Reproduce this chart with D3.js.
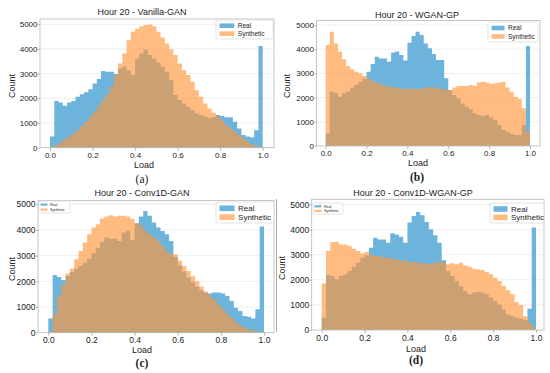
<!DOCTYPE html>
<meta charset="utf-8">
<style>
body { margin: 0; background: #fff; }
text { font-family: "Liberation Sans", Arial, sans-serif; fill: #222; }
</style>
<body>
<script src="https://cdn.jsdelivr.net/npm/d3@7/dist/d3.min.js"></script>
<script>
// histogram counts, 50 bins of width 0.02 over [0, 1]
var binCount = 50;
var seriesNames = ["Real", "Synthetic"];
var xTicks = [0, 0.2, 0.4, 0.6, 0.8, 1.0];
var xTickLabels = ["0.0", "0.2", "0.4", "0.6", "0.8", "1.0"];
var yTicks = [0, 1000, 2000, 3000, 4000, 5000];
var titles = ["Hour 20 - Vanilla-GAN", "Hour 20 - WGAN-GP", "Hour 20 - Conv1D-GAN", "Hour 20 - Conv1D-WGAN-GP"];
var tags = ["(a)", "(b)", "(c)", "(d)"];

var realA = [450,1890,1830,1700,1830,1890,2060,2160,2240,2370, 2600,2780,3110,3070,3070,2980,3210,3280,3140,2940,
  3610,3810,3980,3750,3610,3440,3280,3070,2740,2130, 1930,1790,1660,1520,1390,1320,1250,1190,1250,1320,
  1280,1230,1230,1050,780,510,450,420,710,4120];
var synA = [30,110,200,340,450,580,710,880,1050,1250, 1460,1690,1930,2160,2470,2940,3410,3810,4350,4690,
  4820,4920,4970,4990,4920,4690,4460,4220,3980,3750, 3410,3140,2940,2670,2330,2060,1790,1590,1420,1250,
  1120,920,780,650,510,380,240,150,70,30];

var realB = [520,2240,2200,2040,2180,2240,2420,2520,2660,2780, 3070,3390,3690,3620,3620,3480,3860,3900,3760,3530,
  4270,4550,4720,4590,4240,4040,3800,3550,3550,2800, 2310,2110,1970,1760,1630,1520,1350,1280,1240,1280,
  1180,1070,870,660,590,500,450,450,870,4130];
var synB = [4170,4720,4240,3900,3580,3310,3170,3070,3000,2890, 2800,2700,2620,2560,2500,2440,2450,2400,2380,2340,
  2380,2380,2350,2380,2420,2420,2420,2380,2340,2340, 2310,2420,2480,2480,2480,2520,2480,2620,2660,2620,
  2560,2590,2620,2660,2420,2240,2040,1950,1560,590];

var realC = [550,2250,2170,2050,2210,2360,2490,2600,2730,2880, 3090,3310,3530,3700,3660,3660,3570,3900,3960,3600,
  4260,4520,4740,4550,4290,4090,3960,3830,3570,2950, 2620,2380,2150,1950,1800,1660,1560,1530,1560,1560,
  1530,1430,1230,970,840,650,620,550,910,4130];
var synC = [50,710,1430,1880,2300,2490,2860,3180,3510,3830, 4090,4220,4440,4520,4570,4520,4550,4550,4520,4420,
  4260,4160,3960,3830,3700,3570,3380,3180,3050,3050, 2800,2600,2400,2200,2000,1800,1600,1450,1300,1100,
  910,750,580,420,290,190,130,80,50,30];

var realD = [490,2190,2150,2020,2150,2220,2350,2520,2680,2880, 2970,3280,3680,3610,3610,3480,3850,3800,3720,3480,
  4280,4540,4700,4570,4300,4010,3770,3480,2780,2350, 2150,1950,1750,1550,1420,1490,1510,1490,1420,1290,
  1160,1020,820,620,560,490,450,400,850,4080];
var synD = [1860,3150,3510,3510,3410,3410,3350,3240,3150,3050, 3110,3010,2950,2950,2880,2880,2840,2820,2750,2790,
  2680,2710,2680,2660,2620,2640,2680,2710,2680,2620, 2660,2620,2680,2570,2520,2440,2420,2390,2310,2220,
  2080,1950,1750,1580,1420,1120,1000,550,300,100];

var realSeries = [realA, realB, realC, realD];
var synSeries = [synA, synB, synC, synD];

// panel placement in the 550x373 picture
var panels = [
  {left: 40, right: 274, top: 19, x0: 50, x1: 262.7, yZero: 147.7, y5000: 24.2, fs: 8,
   title: [142, 15], count: [12, 86], load: [144, 168], tag: [142, 183], tagBold: false,
   legend: {x: 216, y: 20, w: 57, h: 19, fs: 6.5}},
  {left: 316.5, right: 540, top: 20.5, x0: 325.7, x1: 530, yZero: 146, y5000: 25, fs: 8,
   title: [417, 17.5], count: [287, 86], load: [418, 166], tag: [417, 181], tagBold: true,
   legend: {x: 488, y: 22, w: 50, h: 20, fs: 6.5}},
  {left: 38, right: 274, top: 200.5, x0: 48.3, x1: 264, yZero: 332.7, y5000: 204.2, fs: 8.5,
   title: [142, 196], count: [12, 269], load: [142, 353], tag: [142, 367], tagBold: true,
   legend: {x: 216, y: 202, w: 58, h: 21, fs: 8}, tiny: {x: 39, y: 201, w: 31, h: 12}},
  {left: 311.7, right: 544, top: 199.3, x0: 321.7, x1: 536, yZero: 330, y5000: 204.5, fs: 8.5,
   title: [413, 196], count: [282, 268], load: [416, 352], tag: [416, 364], tagBold: true,
   legend: {x: 490, y: 203, w: 54, h: 20, fs: 8}, tiny: {x: 313, y: 203, w: 30, h: 11}}
];

var blue = "#6cb4dc";
var orange = "#ff963c";
var orangeAlpha = 0.65;

var svg = d3.select("body").append("svg").attr("width", 550).attr("height", 373);

// stray frame edge between the lower panels
svg.append("line").attr("x1", 276.5).attr("x2", 276.5).attr("y1", 199).attr("y2", 332)
  .style("stroke", "#aaa").style("stroke-width", 1);

function drawLegend(g, lg, tinyMode) {
  var fs = lg.fs;
  g.append("rect").attr("x", lg.x).attr("y", lg.y).attr("width", lg.w).attr("height", lg.h)
    .attr("rx", tinyMode ? 1 : 2)
    .style("fill", "#fff").style("fill-opacity", 0.85).style("stroke", "#dcdcdc").style("stroke-width", 0.8);
  var pw = tinyMode ? 7 : lg.w * 0.26;
  var ph = tinyMode ? 2.2 : fs * 0.7;
  seriesNames.forEach(function(name, i) {
    var cy = lg.y + lg.h * (i === 0 ? 0.3 : 0.72);
    g.append("rect").attr("x", lg.x + (tinyMode ? 1.5 : 3.5)).attr("y", cy - ph / 2)
      .attr("width", pw).attr("height", ph)
      .style("fill", i === 0 ? blue : orange).style("fill-opacity", i === 0 ? 1 : orangeAlpha);
    g.append("text").attr("x", lg.x + (tinyMode ? 11 : pw + 7)).attr("y", cy)
      .attr("dy", "0.35em").style("font-size", fs + "px").text(name);
  });
}

panels.forEach(function(p, k) {
  var g = svg.append("g");
  var x = d3.scaleLinear().domain([0, 1]).range([p.x0, p.x1]);
  var y = d3.scaleLinear().domain([0, 5000]).range([p.yZero, p.y5000]);
  var bw = 1 / binCount;

  // grid
  g.selectAll(".grid").data(yTicks.slice(1)).enter().append("line")
    .attr("x1", p.left).attr("x2", p.right)
    .attr("y1", function(d) { return y(d); }).attr("y2", function(d) { return y(d); })
    .style("stroke", "#ebebeb").style("stroke-width", 0.8);

  var area = d3.area().curve(d3.curveStepAfter)
    .x(function(d) { return x(d[0]); })
    .y0(y(0)).y1(function(d) { return y(d[1]); });
  function pts(vals) {
    var a = vals.map(function(v, i) { return [i * bw, v]; });
    a.push([1, vals[vals.length - 1]]);
    return a;
  }
  g.append("path").attr("d", area(pts(realSeries[k]))).style("fill", blue);
  g.append("path").attr("d", area(pts(synSeries[k]))).style("fill", orange).style("fill-opacity", orangeAlpha);

  // frame
  g.append("rect").attr("x", p.left).attr("y", p.top)
    .attr("width", p.right - p.left).attr("height", p.yZero - p.top)
    .style("fill", "none").style("stroke", "#b8b8b8").style("stroke-width", 0.8);

  var xa = g.append("g").attr("transform", "translate(0," + p.yZero + ")")
    .call(d3.axisBottom(x).tickValues(xTicks).tickSize(3).tickPadding(1.5)
      .tickFormat(function(d, i) { return xTickLabels[i]; }));
  var ya = g.append("g").attr("transform", "translate(" + p.left + ",0)")
    .call(d3.axisLeft(y).tickValues(yTicks).tickSize(2).tickFormat(d3.format("d")));
  [xa, ya].forEach(function(ax) {
    ax.select(".domain").remove();
    ax.selectAll("line").style("stroke", "#999").style("stroke-width", 0.7);
    ax.selectAll("text").style("font-size", p.fs + "px").style("font-family", "'Liberation Sans', Arial, sans-serif").style("fill", "#222");
  });
  ya.selectAll("text").attr("x", -2.5);

  g.append("text").attr("x", p.title[0]).attr("y", p.title[1]).attr("text-anchor", "middle")
    .style("font-size", "9px").text(titles[k]);
  g.append("text").attr("transform", "translate(" + p.count[0] + "," + p.count[1] + ") rotate(-90)")
    .attr("text-anchor", "middle").attr("dy", "0.35em").style("font-size", "9px").text("Count");
  g.append("text").attr("x", p.load[0]).attr("y", p.load[1]).attr("text-anchor", "middle")
    .style("font-size", "9px").text("Load");
  g.append("text").attr("x", p.tag[0]).attr("y", p.tag[1]).attr("text-anchor", "middle")
    .style("font-family", "'Liberation Serif', 'DejaVu Serif', serif")
    .style("font-weight", p.tagBold ? "bold" : "normal")
    .style("font-size", "11.5px").text(tags[k]);

  drawLegend(g, p.legend, false);
  if (p.tiny) drawLegend(g, {x: p.tiny.x, y: p.tiny.y, w: p.tiny.w, h: p.tiny.h, fs: 3.6}, true);
});
</script>
